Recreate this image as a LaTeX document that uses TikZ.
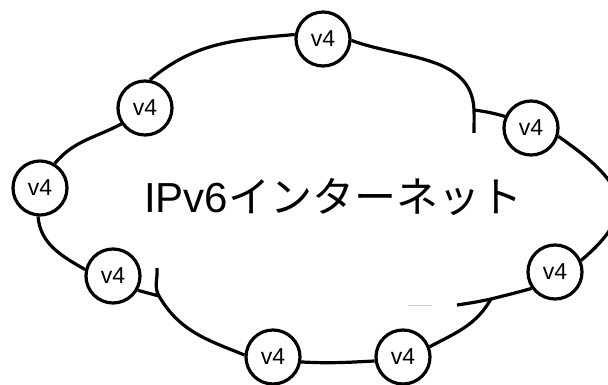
\documentclass[tikz,border=0pt]{standalone}
\usepackage{fontspec}
\setmainfont{Liberation Sans}
\newfontfamily\cjk{Noto Sans CJK JP}
\begin{document}
\begin{tikzpicture}[x=1pt,y=1pt,
  hostnode/.style={circle,draw,line width=3.2pt,fill=white,minimum size=54pt,
    inner sep=0pt,font=\fontsize{23}{27}\selectfont},
  cloudline/.style={line width=3.2pt},
  faintline/.style={line width=1pt,black!18}]
\useasboundingbox (0,0) rectangle (608,385);
\clip (0,0) rectangle (608,385);

% hosts around the cloud
\node[hostnode] (n1) at (323,346) {v4};
\node[hostnode] (n2) at (145,277) {v4};
\node[hostnode] (n3) at (40,197) {v4};
\node[hostnode] (n4) at (113,109) {v4};
\node[hostnode] (n5) at (273,28) {v4};
\node[hostnode] (n6) at (403,28) {v4};
\node[hostnode] (n7) at (555,113) {v4};
\node[hostnode] (n8) at (531,257) {v4};

% junctions and loose ends of the cloud outline
\coordinate (j1) at (474,275);
\coordinate (c1) at (474,252);
\coordinate (j2) at (491,86);
\coordinate (c2) at (457,80);
\coordinate (j3) at (159,89);
\coordinate (c3) at (157,117);
\coordinate (g1) at (408,79);
\coordinate (g2) at (432,79);

% cloud outline
\draw[cloudline] (n3.59) to[out=50,in=208] (n2.214);
\draw[cloudline] (n2.80) to[out=40,in=185] (n1.171);
\draw[cloudline] (n1.-3) to[out=-20,in=92] (j1) to[out=-88,in=90] (c1);
\draw[cloudline] (j1) to[bend left=4] (n8.156);
\draw[cloudline] (n8.-17) to[out=-35,in=40,looseness=1.6] (n7.24);
\draw[cloudline] (n7.215) to[out=196,in=14] (j2) to[out=192,in=8] (c2);
\draw[cloudline] (j2) to[out=-120,in=28] (n6.21);
\draw[cloudline] (n6.188) to[out=183,in=-3] (n5.-10);
\draw[cloudline] (n5.176) to[out=158,in=-60] (j3) to[out=120,in=-85] (c3);
\draw[cloudline] (j3) -- (n4.-30);
\draw[cloudline] (n4.167) to[out=150,in=-85] (n3.266);
\draw[faintline] (g1) -- (g2);

% label
\node[anchor=base west,inner sep=0pt,font=\fontsize{42}{50}\selectfont]
  (label) at (144,172) {IPv6{\cjk インターネット}};
\end{tikzpicture}
\end{document}
